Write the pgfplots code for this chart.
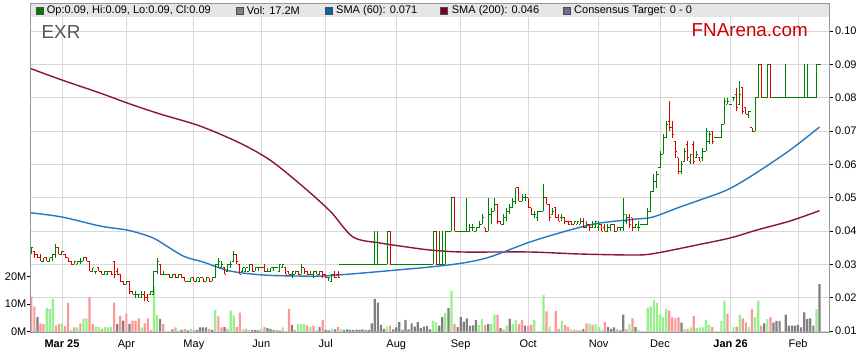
\documentclass[border=0pt]{standalone}
\usepackage{fontspec}
\setmainfont{Liberation Sans}
\usepackage{pgfplots}
\usepackage{pgfplotstable}
\pgfplotsset{compat=1.18}
\definecolor{upg}{RGB}{0,128,0}
\definecolor{dnr}{RGB}{220,0,0}
\definecolor{vg}{RGB}{150,240,140}
\definecolor{vr}{RGB}{255,150,150}
\definecolor{vgr}{RGB}{128,128,128}
\definecolor{smab}{RGB}{40,120,190}
\definecolor{smam}{RGB}{140,20,60}
\definecolor{gridc}{RGB}{216,216,216}
\definecolor{framec}{RGB}{150,150,150}
\definecolor{bandc}{RGB}{230,230,230}
% OHLC glyph: placed at (i, low); 1 thousandth of price = 3.333bp on this axis
\pgfdeclareplotmark{ohlc}{%
  \ifdim\vc pt<\vo pt\relax\pgfsetstrokecolor{dnr}\else\pgfsetstrokecolor{upg}\fi
  \pgfpathmoveto{\pgfpoint{0pt}{0pt}}%
  \pgfpathlineto{\pgfpoint{0pt}{(\vh-\vl)*3.333bp}}%
  \pgfpathmoveto{\pgfpoint{-1.6bp}{(\vo-\vl)*3.333bp}}%
  \pgfpathlineto{\pgfpoint{0pt}{(\vo-\vl)*3.333bp}}%
  \pgfpathmoveto{\pgfpoint{0pt}{(\vc-\vl)*3.333bp}}%
  \pgfpathlineto{\pgfpoint{1.6bp}{(\vc-\vl)*3.333bp}}%
  \pgfusepathqstroke}
\pgfplotstableread{
i o h l c
-10 33 35 33 35
-9 34 34 32 33
-8 33 33 32 32
-7 32 33 31 31
-6 31 32 31 32
-5 32 32 31 31
-4 31 32 31 32
-3 32 33 31 33
-2 33 36 32 35
-1 35 35 33 33
0 33 34 33 34
1 33 33 32 32
2 32 32 31 31
3 31 31 30 30
4 30 31 30 31
5 30 31 30 31
6 31 32 30 31
7 31 32 31 32
8 32 32 31 31
9 31 31 28 28
10 28 29 28 29
11 28 28 27 28
12 29 29 28 28
13 28 28 27 27
14 27 28 27 28
15 27 28 27 28
16 28 28 27 27
17 31 31 26 27
18 28 29 27 27
19 27 27 25 25
20 25 25 24 24
21 24 25 24 25
22 25 25 21 22
23 22 22 21 21
24 21 22 20 21
25 21 21 20 21
26 20 22 20 21
27 21 22 19 20
28 20 21 19 19
29 21 22 21 22
30 21 28 21 28
31 28 32 27 31
32 30 30 27 27
33 27 28 27 27
34 27 27 27 27
35 27 27 26 26
36 26 27 26 27
37 27 27 26 26
38 26 27 26 27
39 27 27 26 26
40 26 26 25 25
41 25 25 25 25
42 25 26 25 26
43 26 26 25 25
44 25 26 25 26
45 25 26 25 26
46 26 26 25 25
47 25 26 25 26
48 26 26 25 25
49 25 26 25 26
50 26 30 26 30
51 30 32 29 31
52 29 31 29 30
53 29 29 27 27
54 28 30 28 30
55 30 31 29 30
56 31 34 31 33
57 33 33 30 31
58 30 30 27 27
59 28 29 28 29
60 28 29 28 29
61 28 30 28 30
62 30 30 28 28
63 28 29 28 29
64 29 29 28 29
65 29 29 29 29
66 29 30 28 28
67 28 29 28 28
68 28 29 28 29
69 29 29 28 29
70 29 29 29 29
71 28 30 28 30
72 29 30 29 30
73 29 29 27 27
74 28 28 27 27
75 27 28 26 28
76 27 28 27 28
77 28 28 27 27
78 27 30 27 29
79 29 29 27 28
80 28 28 27 27
81 27 28 27 27
82 27 28 26 28
83 28 28 27 27
84 27 28 27 28
85 28 28 26 27
86 27 27 26 26
87 26 26 25 26
88 25 27 25 27
89 27 28 26 26
90 27 28 26 26
91 30 30 30 30
92 30 30 30 30
93 30 30 30 30
94 30 30 30 30
95 30 30 30 30
96 30 30 30 30
97 30 30 30 30
98 30 30 30 30
99 30 30 30 30
100 30 30 30 30
101 30 30 30 30
102 30 40 30 30
103 30 40 30 30
104 30 30 30 30
105 30 30 30 30
106 30 40 30 40
107 40 40 30 30
108 30 30 30 30
109 30 30 30 30
110 30 30 30 30
111 30 30 30 30
112 30 30 30 30
113 30 30 30 30
114 30 30 30 30
115 30 30 30 30
116 30 30 30 30
117 30 30 30 30
118 30 30 30 30
119 30 30 30 30
120 30 30 30 30
121 30 40 30 40
122 40 40 30 30
123 30 40 30 30
124 30 40 30 30
125 30 40 30 40
126 40 40 40 40
127 40 50 40 50
128 50 50 40 40
129 40 40 40 40
130 40 40 40 40
131 40 40 40 40
132 40 50 40 40
133 40 42 40 41
134 41 42 40 41
135 40 41 40 41
136 41 43 41 42
137 42 45 42 44
138 41 41 40 40
139 40 50 40 45
140 45 47 42 46
141 46 50 46 48
142 48 48 42 43
143 43 43 42 42
144 42 45 42 44
145 44 47 43 46
146 46 48 45 47
147 47 50 47 49
148 49 53 48 53
149 53 53 49 49
150 49 51 49 50
151 50 51 49 50
152 50 50 47 47
153 47 47 45 45
154 45 46 44 45
155 44 46 43 46
156 46 46 46 46
157 46 54 46 50
158 50 50 48 48
159 48 48 43 44
160 45 47 45 46
161 47 47 44 44
162 44 45 43 43
163 44 45 43 44
164 44 44 42 43
165 43 43 42 42
166 43 43 42 42
167 42 43 42 43
168 42 43 42 43
169 42 44 42 43
170 43 44 41 41
171 41 43 41 42
172 42 42 40 41
173 41 43 41 42
174 41 43 41 43
175 41 43 40 42
176 42 42 40 40
177 41 42 40 40
178 40 42 40 41
179 41 42 40 42
180 42 42 40 40
181 40 41 40 41
182 41 41 40 41
183 41 50 40 45
184 43 45 42 44
185 44 45 41 42
186 44 44 40 41
187 41 42 41 42
188 41 43 40 41
189 42 42 42 42
190 42 42 42 42
191 42 47 42 46
192 46 52 46 52
193 52 57 52 55
194 55 58 53 57
195 59 64 59 63
196 63 69 63 68
197 68 73 68 72
198 73 79 70 71
199 71 73 68 69
200 67 67 62 64
201 62 62 57 58
202 58 61 57 60
203 61 65 61 64
204 66 67 61 62
205 61 63 60 63
206 66 67 60 61
207 62 64 62 63
208 62 62 61 61
209 62 65 61 64
210 64 71 64 70
211 67 70 66 69
212 70 70 66 67
213 68 68 68 68
214 68 68 68 68
215 68 72 68 72
216 72 80 72 79
217 78 80 78 79
218 78 78 78 78
219 80 80 79 80
220 81 83 76 77
221 78 85 78 81
222 83 83 75 76
223 77 77 75 75
224 75 76 74 76
225 71 71 70 70
226 70 80 70 80
227 80 90 80 90
228 90 90 80 80
229 80 80 80 80
230 80 90 80 90
231 90 90 80 80
232 80 80 80 80
233 80 80 80 80
234 80 80 80 80
235 80 80 80 80
236 80 90 80 80
237 80 80 80 80
238 80 80 80 80
239 80 80 80 80
240 80 80 80 80
241 80 80 80 80
242 80 90 80 80
243 80 90 80 80
244 80 80 80 80
245 80 80 80 80
246 80 90 80 90
247 90 90 90 90
}\price
\pgfplotstableread{
i v
-5 8.5
-4 8.2
-3 11.9
0 3.0
3 0.6
5 1.5
7 4.6
8 4.8
11 1.8
12 1.6
14 1.6
15 1.5
16 1.6
26 1.5
30 16.4
31 6.0
38 0.4
42 1.0
50 7.9
55 7.6
56 5.8
59 0.8
61 0.6
65 1.0
72 1.5
77 2.8
78 2.8
79 2.7
81 1.6
83 0.6
88 1.0
91 1.0
106 1.8
121 4.0
122 3.3
125 6.7
127 14.8
136 2.4
137 4.5
140 2.7
141 6.1
145 2.1
147 2.7
148 4.2
154 4.2
157 13.3
159 1.8
163 4.0
166 0.8
172 3.0
174 2.7
175 1.6
176 0.6
185 2.8
188 0.6
191 8.7
192 9.1
193 11.5
194 10.3
195 6.1
196 5.2
197 8.2
203 1.0
205 1.5
207 1.2
208 1.5
209 1.5
210 4.2
211 2.4
215 3.9
216 11.2
219 1.6
221 6.1
224 1.6
226 5.2
227 11.2
230 4.5
246 8.1
}\volup
\pgfplotstableread{
i v
-10 12.7
-9 9.1
-7 3.0
-6 2.7
-2 2.2
-1 2.8
1 2.0
2 10.3
4 1.5
6 3.0
9 12.5
10 2.8
13 1.0
17 10.5
19 5.7
21 6.4
23 4.0
24 4.0
25 4.8
27 3.0
28 4.8
29 0.5
33 2.7
37 1.5
40 1.0
43 0.6
48 1.0
51 5.5
52 1.5
54 1.0
57 1.6
58 6.9
60 1.0
66 1.6
70 0.6
74 8.2
76 0.6
80 2.1
82 2.1
85 4.2
90 1.6
107 2.1
128 2.8
138 2.4
142 6.1
144 0.8
149 2.8
150 4.2
152 2.1
153 2.4
158 7.3
161 7.5
162 1.0
164 2.4
165 1.6
167 0.6
168 0.4
169 0.4
171 3.0
173 2.4
177 3.4
181 0.8
184 0.8
186 4.8
198 7.6
199 5.1
200 4.8
201 5.1
204 1.0
206 5.7
212 1.6
217 6.4
220 1.8
222 4.8
223 3.2
225 8.2
228 2.1
231 5.2
}\voldown
\pgfplotstableread{
i v
-8 5.2
18 2.8
20 4.0
22 2.8
32 4.5
36 0.8
39 0.6
41 0.4
44 0.6
45 1.5
46 1.5
47 1.5
49 0.6
53 1.6
62 0.5
63 0.6
64 0.4
67 1.2
68 1.0
69 0.6
71 0.3
75 2.4
84 1.6
86 0.6
87 0.4
89 0.8
92 0.6
93 0.8
94 0.6
95 0.5
96 0.7
97 0.6
98 0.8
99 0.5
100 0.6
101 3.0
102 11.9
103 10.5
104 2.4
105 1.0
108 0.8
109 1.5
110 3.4
111 0.6
112 4.2
113 0.8
114 3.0
115 1.8
116 3.4
117 1.2
118 1.8
119 2.0
120 0.8
123 2.1
124 5.2
126 8.5
129 1.6
130 5.2
131 3.6
132 4.8
133 2.1
134 2.2
135 4.2
139 2.7
143 1.2
146 4.6
151 2.1
170 1.0
178 1.6
179 1.0
180 1.5
182 0.4
183 6.1
187 1.6
202 3.2
229 3.0
232 3.2
233 3.9
234 3.9
236 6.1
237 2.1
238 2.1
239 2.1
240 2.4
241 1.5
242 7.0
243 4.6
244 4.8
245 2.1
247 17.2
}\volflat
\pgfplotsset{
  base/.style={at={(30bp,31bp)}, anchor=south west,
    scale only axis, width=799bp, height=329bp,
    xmin=-10.43, xmax=250.1},
}
\begin{document}
\begin{tikzpicture}[font=\fontsize{11bp}{13bp}\selectfont]
\useasboundingbox (0,0) rectangle (859bp,363bp);
\fill[white] (0,0) rectangle (859bp,363bp);
% grid, price ticks and month labels
\begin{axis}[base,
  ymin=0.0097, ymax=0.10841,
  axis line style={draw=none},
  grid=major, major grid style={draw=gridc, line width=0.8bp},
  xtick={0,21,43,65,86,109,130,152,175,195,218,240},
  xticklabels={\textbf{Mar 25},Apr,May,Jun,Jul,Aug,Sep,Oct,Nov,Dec,\textbf{Jan 26},Feb},
  xtick style={draw=none},
  xticklabel style={font=\fontsize{11bp}{13bp}\selectfont, text=black},
  ytick={0.01,0.02,0.03,0.04,0.05,0.06,0.07,0.08,0.09,0.1},
  yticklabels={0.01,0.02,0.03,0.04,0.05,0.06,0.07,0.08,0.09,0.10},
  ytick pos=right, yticklabel pos=right,
  tick align=outside, major tick length=4bp,
  ytick style={draw=black, line width=0.8bp},
  yticklabel style={font=\fontsize{11bp}{13bp}\selectfont, text=black, inner sep=2bp},
]
\end{axis}
% volume
\begin{axis}[base,
  ymin=-0.18, ymax=119.45,
  axis line style={draw=none},
  xtick=\empty,
  ytick={0,10,20}, yticklabels={0M,10M,20M},
  ytick pos=left, tick align=outside, major tick length=2.5bp,
  ytick style={draw=black, line width=0.8bp},
  yticklabel style={font=\fontsize{11bp}{13bp}\selectfont, text=black, inner sep=1bp},
]
\addplot[ybar, bar width=2.2bp, bar shift=0pt, fill=vg, draw=none] table[x=i, y=v]{\volup};
\addplot[ybar, bar width=2.2bp, bar shift=0pt, fill=vr, draw=none] table[x=i, y=v]{\voldown};
\addplot[ybar, bar width=2.2bp, bar shift=0pt, fill=vgr, draw=none] table[x=i, y=v]{\volflat};
\end{axis}
% price: SMAs and OHLC bars
\begin{axis}[base,
  ymin=0.0097, ymax=0.10841,
  axis line style={draw=none},
  xtick=\empty, ytick=\empty,
]
\addplot[smam, line width=1.4bp, smooth] coordinates {(-10.4,0.0888) (0,0.0853) (12.4,0.0814) (22.2,0.0781) (32,0.0751) (45,0.0715) (58,0.0664) (67.8,0.0613) (77.6,0.0541) (87.4,0.0460) (94.9,0.0382) (103.7,0.0364) (110.2,0.0355) (120,0.0343) (130.7,0.0337) (152.6,0.0337) (168.9,0.0331) (187.5,0.0328) (194,0.0334) (207,0.0358) (217.8,0.0379) (226.6,0.0403) (237.4,0.0430) (247,0.0461)};
\addplot[smab, line width=1.4bp, smooth] coordinates {(-10.4,0.0455) (0,0.0442) (12.4,0.0415) (21.2,0.0403) (27.1,0.0388) (31,0.0373) (39.5,0.0325) (46,0.0307) (54.8,0.0280) (65.5,0.0268) (76.6,0.0265) (85.1,0.0265) (98.1,0.0274) (109.2,0.0283) (120,0.0292) (130.7,0.0304) (139.5,0.0322) (152.6,0.0367) (165.6,0.0403) (175.4,0.0424) (187.5,0.0436) (192.7,0.0442) (201.5,0.0472) (208,0.0493) (216.8,0.0523) (225.3,0.0568) (237.4,0.0643) (247,0.0712)};
\addplot[only marks, mark=ohlc, mark options={line width=1bp},
  visualization depends on={\thisrow{o} \as \vo},
  visualization depends on={\thisrow{h} \as \vh},
  visualization depends on={\thisrow{l} \as \vl},
  visualization depends on={\thisrow{c} \as \vc}]
  table[x=i, y expr=\thisrow{l}/1000]{\price};
\end{axis}
% legend band and frame
\fill[bandc] (30.4bp,346bp) rectangle (828.6bp,359.6bp);
\draw[framec, line width=0.8bp] (30bp,31bp) rectangle (829bp,360bp);
\filldraw[fill=upg, draw=black!70, line width=0.5bp] (36bp,349bp) rectangle (43bp,356bp);
\node[anchor=west, inner sep=0] at (46.7bp,352.5bp) {Op:0.09, Hi:0.09, Lo:0.09, Cl:0.09};
\filldraw[fill=vgr, draw=black!70, line width=0.5bp] (236bp,349bp) rectangle (243bp,356bp);
\node[anchor=west, inner sep=0] at (246.7bp,352.5bp) {Vol: 17.2M};
\filldraw[fill={rgb,255:red,0;green,100;blue,170}, draw=black!70, line width=0.5bp] (325bp,349bp) rectangle (332bp,356bp);
\node[anchor=west, inner sep=0] at (336bp,352.5bp) {SMA (60): 0.071};
\filldraw[fill={rgb,255:red,128;green,0;blue,32}, draw=black!70, line width=0.5bp] (440bp,349bp) rectangle (447bp,356bp);
\node[anchor=west, inner sep=0] at (451.7bp,352.5bp) {SMA (200): 0.046};
\filldraw[fill={rgb,255:red,100;green,110;blue,160}, draw=black!70, line width=0.5bp] (563bp,349bp) rectangle (570bp,356bp);
\node[anchor=west, inner sep=0] at (574bp,352.5bp) {Consensus Target: 0 - 0};
\node[anchor=west, inner sep=0, text={rgb,255:red,85;green,85;blue,85}, font=\fontsize{18.8bp}{22bp}\selectfont] at (41.5bp,330.5bp) {EXR};
\node[anchor=west, inner sep=0, text={rgb,255:red,204;green,0;blue,0}, font=\fontsize{18.8bp}{22bp}\selectfont] at (691.5bp,333bp) {FNArena.com};
\end{tikzpicture}
\end{document}
